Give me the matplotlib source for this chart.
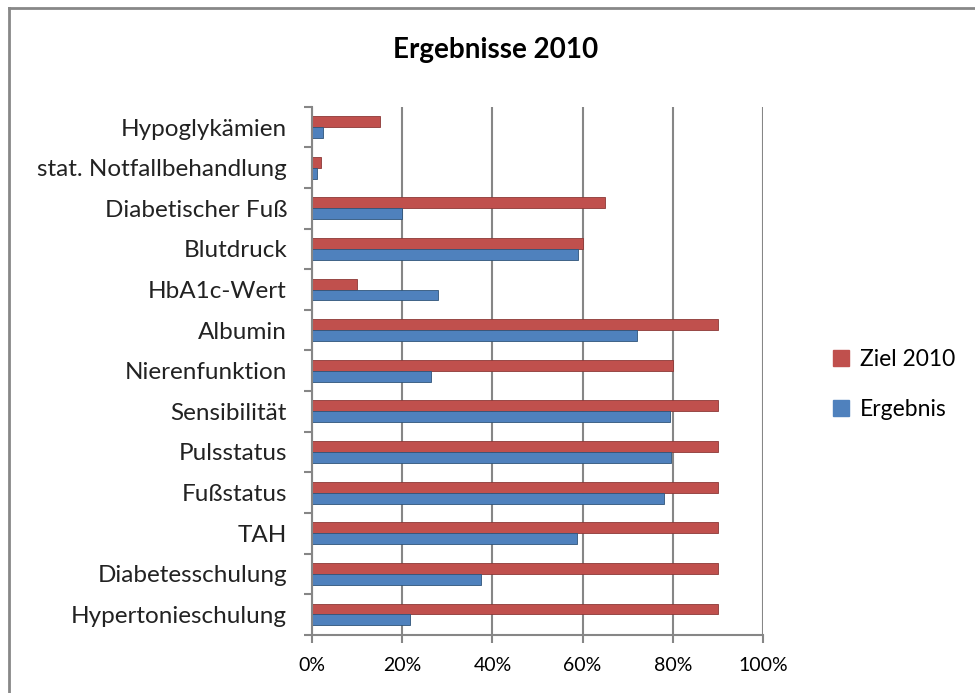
import numpy as np
import matplotlib
matplotlib.use('Agg')
import matplotlib.pyplot as plt
from matplotlib.lines import Line2D
from matplotlib.ticker import PercentFormatter

plt.rcParams['font.family'] = ['Lato', 'DejaVu Sans']

#Datos (de abajo hacia arriba, como en el grafico):
kategorien = ['Hypertonieschulung', 'Diabetesschulung', 'TAH', 'Fußstatus',
              'Pulsstatus', 'Sensibilität', 'Nierenfunktion', 'Albumin',
              'HbA1c-Wert', 'Blutdruck', 'Diabetischer Fuß',
              'stat. Notfallbehandlung', 'Hypoglykämien']
ziel_2010 = [90, 90, 90, 90, 90, 90, 80, 90, 10, 60, 65, 2, 15]
ergebnis = [21.7, 37.5, 58.8, 78, 79.7, 79.4, 26.4, 72, 28, 59, 20, 1, 2.4]

farbe_ziel = '#C0504D'
farbe_erg = '#4F81BD'
grau = '#868686'

fig = plt.figure(figsize=(9.75, 6.93), dpi=100)
ax = fig.add_axes([0.32, 0.084, 0.4626, 0.762])

y = np.arange(len(kategorien))
h = 0.27
ax.barh(y + h/2, ziel_2010, height=h, color=farbe_ziel, edgecolor='#8C3836', linewidth=0.6, zorder=3)
ax.barh(y - h/2, ergebnis, height=h, color=farbe_erg, edgecolor='#2F5479', linewidth=0.6, zorder=3)

ax.set_xlim(0, 100)
ax.set_ylim(-0.5, len(kategorien) - 0.5)
ax.set_xticks(np.arange(0, 101, 20))
ax.xaxis.set_major_formatter(PercentFormatter(decimals=0))
ax.set_yticks(y)
ax.set_yticklabels(kategorien, fontsize=17.5, color='#222222')
ax.set_yticks(np.arange(-0.5, len(kategorien), 1), minor=True)
ax.tick_params(axis='y', which='major', length=0, pad=18)
ax.tick_params(axis='y', which='minor', length=6, width=1.5, color=grau, direction='out')
ax.tick_params(axis='x', length=6, width=1.5, color=grau, direction='out', labelsize=14, pad=10)

ax.grid(axis='x', color=grau, linewidth=1.5, zorder=0)
for s in ['top', 'right']:
    ax.spines[s].set_visible(False)
for s in ['left', 'bottom']:
    ax.spines[s].set_color(grau)
    ax.spines[s].set_linewidth(1.5)
ax.spines['left'].set_zorder(4)

fig.text(0.508, 0.928, 'Ergebnisse 2010', ha='center', va='center', fontsize=20, fontweight='bold')

handles = [Line2D([], [], marker='s', linestyle='none', markersize=11, color=farbe_ziel),
           Line2D([], [], marker='s', linestyle='none', markersize=11, color=farbe_erg)]
fig.legend(handles, ['Ziel 2010', 'Ergebnis'], loc='center left', bbox_to_anchor=(0.83, 0.445),
           frameon=False, fontsize=16.5, handletextpad=0.3, labelspacing=1.25, handlelength=1.0)

#Marco del grafico (solo izquierda y arriba visibles):
fig.add_artist(Line2D([0.009, 0.009], [0.0, 0.988], color='#888888', linewidth=2))
fig.add_artist(Line2D([0.009, 1.0], [0.988, 0.988], color='#888888', linewidth=2))

fig.savefig('out.png', dpi=100)
